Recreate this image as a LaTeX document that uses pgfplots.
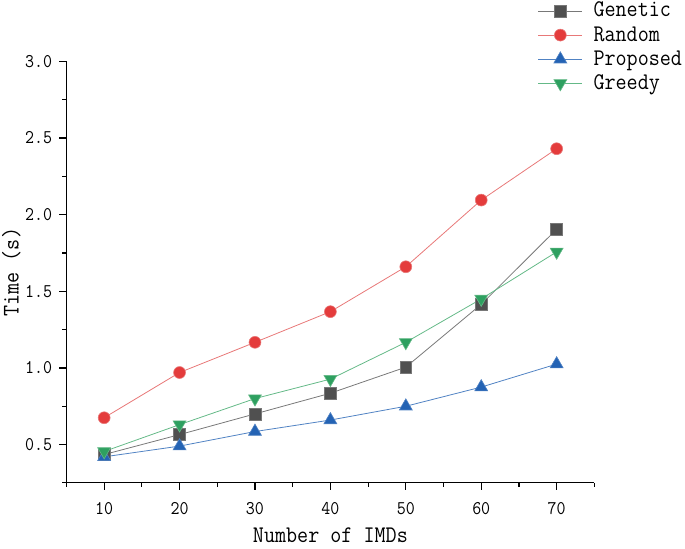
\documentclass[border=0pt]{standalone}
\usepackage{fontspec}
\setmonofont{Latin Modern Mono}[FakeStretch=0.9]
\usepackage{pgfplots}
\pgfplotsset{compat=1.18}
\definecolor{cgen}{RGB}{80,80,80}
\definecolor{cgenl}{RGB}{120,120,120}
\definecolor{cran}{RGB}{228,60,60}
\definecolor{cranl}{RGB}{232,120,120}
\definecolor{cpro}{RGB}{36,99,180}
\definecolor{cprol}{RGB}{80,130,195}
\definecolor{cgre}{RGB}{46,160,96}
\definecolor{cgrel}{RGB}{100,185,135}
\begin{document}
\ttfamily\fontsize{22}{24}\selectfont
\begin{tikzpicture}
\begin{axis}[
 scale only axis, width=531pt, height=424pt,
 xmin=5, xmax=75, ymin=0.25, ymax=3.0,
 axis x line=bottom, axis y line=left,
 axis line style={-, line width=1.2pt},
 xtick={10,20,...,70}, minor xtick={5,15,...,75},
 ytick={0.5,1.0,...,3.0}, minor ytick={0.25,0.75,...,2.75},
 tick align=outside, major tick length=7pt, minor tick length=4pt,
 every tick/.style={black, line width=1.2pt},
 /pgf/number format/assume math mode=true,
 ticklabel style={font=\ttfamily\fontsize{19.5}{21}\selectfont},
 yticklabel style={/pgf/number format/.cd, fixed, fixed zerofill, precision=1},
 xticklabel style={yshift=-5pt},
 xlabel={Number of IMDs}, ylabel={Time (s)},
 label style={font=\ttfamily\fontsize{24}{26}\selectfont},
 xlabel style={inner sep=3pt, text depth=3pt, yshift=-3pt},
 ylabel style={inner sep=2pt, yshift=-5pt},
 legend style={draw=none, fill=none, at={(0.893,1.146)}, anchor=north west,
   inner sep=0pt, row sep=2.3pt, column sep=8pt,
   nodes={inner xsep=3pt, inner ysep=0pt, text height=17pt, text depth=5pt},
   font=\ttfamily\fontsize{24}{26}\selectfont},
 legend cell align=left,
 legend image code/.code={\draw[#1, mark repeat=2, mark phase=2] plot coordinates {(0pt,0pt) (22pt,0pt) (44pt,0pt)};},
]
\addplot[cgenl, line width=0.8pt, mark=square*, mark size=6pt, mark options={fill=cgen, draw=cgenl, line width=0.6pt}] coordinates {
(10,0.435) (20,0.565) (30,0.70) (40,0.835) (50,1.005) (60,1.415) (70,1.905)};
\addlegendentry{Genetic}
\addplot[cranl, line width=0.8pt, mark=*, mark size=6pt, mark options={fill=cran, draw=cranl, line width=0.6pt}] coordinates {
(10,0.675) (20,0.97) (30,1.167) (40,1.367) (50,1.66) (60,2.095) (70,2.43)};
\addlegendentry{Random}
\addplot[cprol, line width=0.8pt, mark=triangle*, mark size=7.5pt, mark options={fill=cpro, draw=cprol, line width=0.6pt}] coordinates {
(10,0.42) (20,0.49) (30,0.585) (40,0.66) (50,0.75) (60,0.875) (70,1.025)};
\addlegendentry{Proposed}
\addplot[cgrel, line width=0.8pt, mark=triangle*, mark size=7.5pt, mark options={fill=cgre, draw=cgrel, line width=0.6pt, rotate=180}] coordinates {
(10,0.455) (20,0.63) (30,0.80) (40,0.927) (50,1.167) (60,1.45) (70,1.757)};
\addlegendentry{Greedy}
\end{axis}
\end{tikzpicture}
\end{document}
